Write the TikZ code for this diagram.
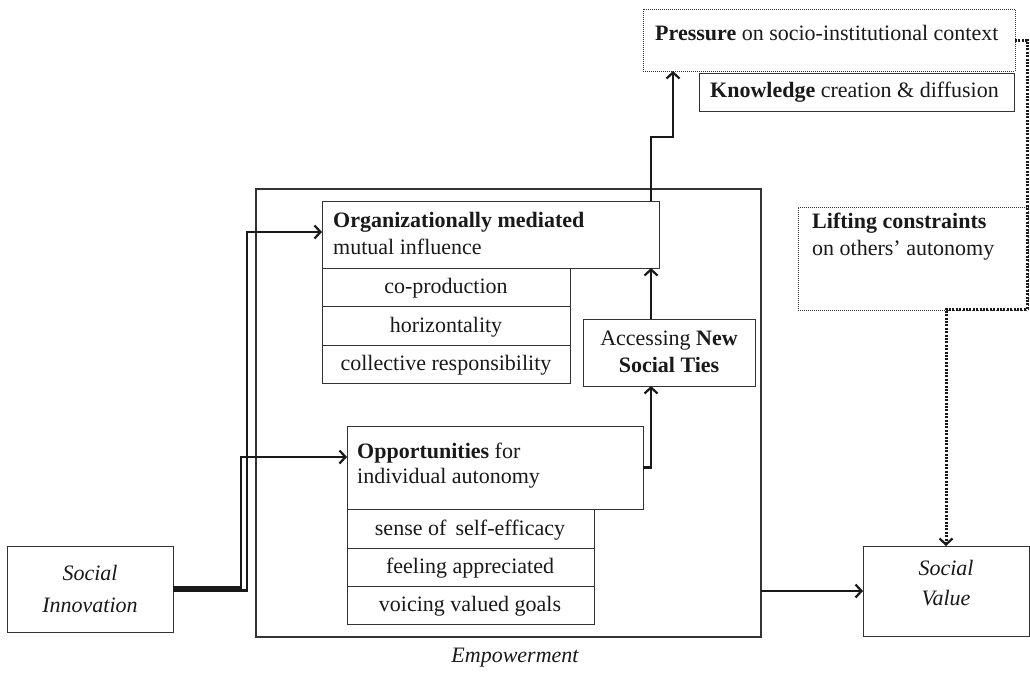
\documentclass[tikz,border=0pt]{standalone}
\usepackage{fontspec}
\setmainfont{Liberation Serif}
\usetikzlibrary{arrows.meta}
\begin{document}
\begin{tikzpicture}[x=1pt,y=-1pt,
  box/.style={draw=black!80,line width=1pt,fill=white,anchor=north west,inner sep=0pt,outer sep=0pt},
  dotbox/.style={box,line width=1pt,dash pattern=on 1pt off 1pt},
  txt/.style={inner sep=0pt,font=\fontsize{22}{27}\selectfont,text=black!90},
  arr/.style={draw=black!90,line width=2.6pt,-{Straight Barb[length=6pt,width=13pt,line width=2.2pt]}},
  dotarr/.style={draw=black!90,line width=3pt,dash pattern=on 2pt off 1.4pt,-{Straight Barb[length=6pt,width=13pt,line width=2.2pt]}}
]
\useasboundingbox[fill=white] (0,0) rectangle (1030,675);

% boxes
\node[box,minimum width=166pt,minimum height=86pt] (si) at (7,546) {};
\node[box,line width=1.4pt,minimum width=505pt,minimum height=448pt] (emp) at (256,189) {};
\node[box,minimum width=337pt,minimum height=67pt] (org) at (322,201) {};
\node[box,minimum width=248pt,minimum height=38pt] (r1) at (322,268) {};
\node[box,minimum width=248pt,minimum height=39pt] (r2) at (322,306) {};
\node[box,minimum width=248pt,minimum height=38pt] (r3) at (322,345) {};
\node[box,minimum width=172pt,minimum height=67pt] (acc) at (583,319) {};
\node[box,minimum width=296pt,minimum height=83pt] (opp) at (347,426) {};
\node[box,minimum width=247pt,minimum height=39pt] (s1) at (347,509) {};
\node[box,minimum width=247pt,minimum height=38pt] (s2) at (347,548) {};
\node[box,minimum width=247pt,minimum height=38pt] (s3) at (347,586) {};
\node[dotbox,minimum width=372pt,minimum height=62pt] (pres) at (643,9) {};
\node[box,minimum width=315pt,minimum height=38pt] (know) at (699,73) {};
\node[dotbox,minimum width=230pt,minimum height=103pt] (lift) at (798,207) {};
\node[box,minimum width=166pt,minimum height=90pt] (sv) at (863,546) {};

% texts
\node[txt,anchor=base] (sit1) at (90,580) {\itshape Social};
\node[txt,anchor=base] (sit2) at (90,612) {\itshape Innovation};
\node[txt,anchor=base] (svt1) at (946,575) {\itshape Social};
\node[txt,anchor=base] (svt2) at (946,605) {\itshape Value};
\node[txt,anchor=base] (empt) at (515,662) {\itshape Empowerment};
\node[txt,anchor=base west] (orgt1) at (333,227) {\textbf{Organizationally mediated}};
\node[txt,anchor=base west] (orgt2) at (333,254) {mutual influence};
\node[txt,anchor=base] (r1t) at (446,293) {co-production};
\node[txt,anchor=base] (r2t) at (446,332) {horizontality};
\node[txt,anchor=base] (r3t) at (446,370) {collective responsibility};
\node[txt,anchor=base] (acct1) at (669,345) {Accessing \textbf{New}};
\node[txt,anchor=base] (acct2) at (669,372) {\textbf{Social Ties}};
\node[txt,anchor=base west] (oppt1) at (357,458) {\textbf{Opportunities} for};
\node[txt,anchor=base west] (oppt2) at (357,483) {individual autonomy};
\node[txt,anchor=base] (s1t) at (470,535) {sense of \,self-efficacy};
\node[txt,anchor=base] (s2t) at (470,573) {feeling appreciated};
\node[txt,anchor=base] (s3t) at (470,611) {voicing valued goals};
\node[txt,anchor=base west] (prest) at (655,40) {\textbf{Pressure} on socio-institutional context};
\node[txt,anchor=base west] (knowt) at (710,97) {\textbf{Knowledge} creation \& diffusion};
\node[txt,anchor=base west] (liftt1) at (812,228) {\textbf{Lifting constraints}};
\node[txt,anchor=base west] (liftt2) at (812,255) {on others’ autonomy};

% connectors
\coordinate (j1) at (247,232);
\coordinate (j2) at (241,457);
\coordinate (ax) at (651,0);
\coordinate (bx) at (673,137);
\coordinate (d2) at (1027,309);
\draw[arr] ([yshift=-1.3pt]si.east) -| (j1) -- (org.west |- j1);
\draw[arr] ([yshift=1.3pt]si.east) -| (j2) -- (opp.west |- j2);
\draw[arr] (opp.east) -| (acc.south -| ax);
\draw[arr] (acc.north -| ax) -- (org.south -| ax);
\draw[arr] (org.north -| ax) |- (bx) -- (pres.south -| bx);
\draw[arr] (emp.east |- sv.west) -- (sv.west);
\draw[dotarr] (pres.east) -| (d2) -| (sv.north);
\end{tikzpicture}
\end{document}
